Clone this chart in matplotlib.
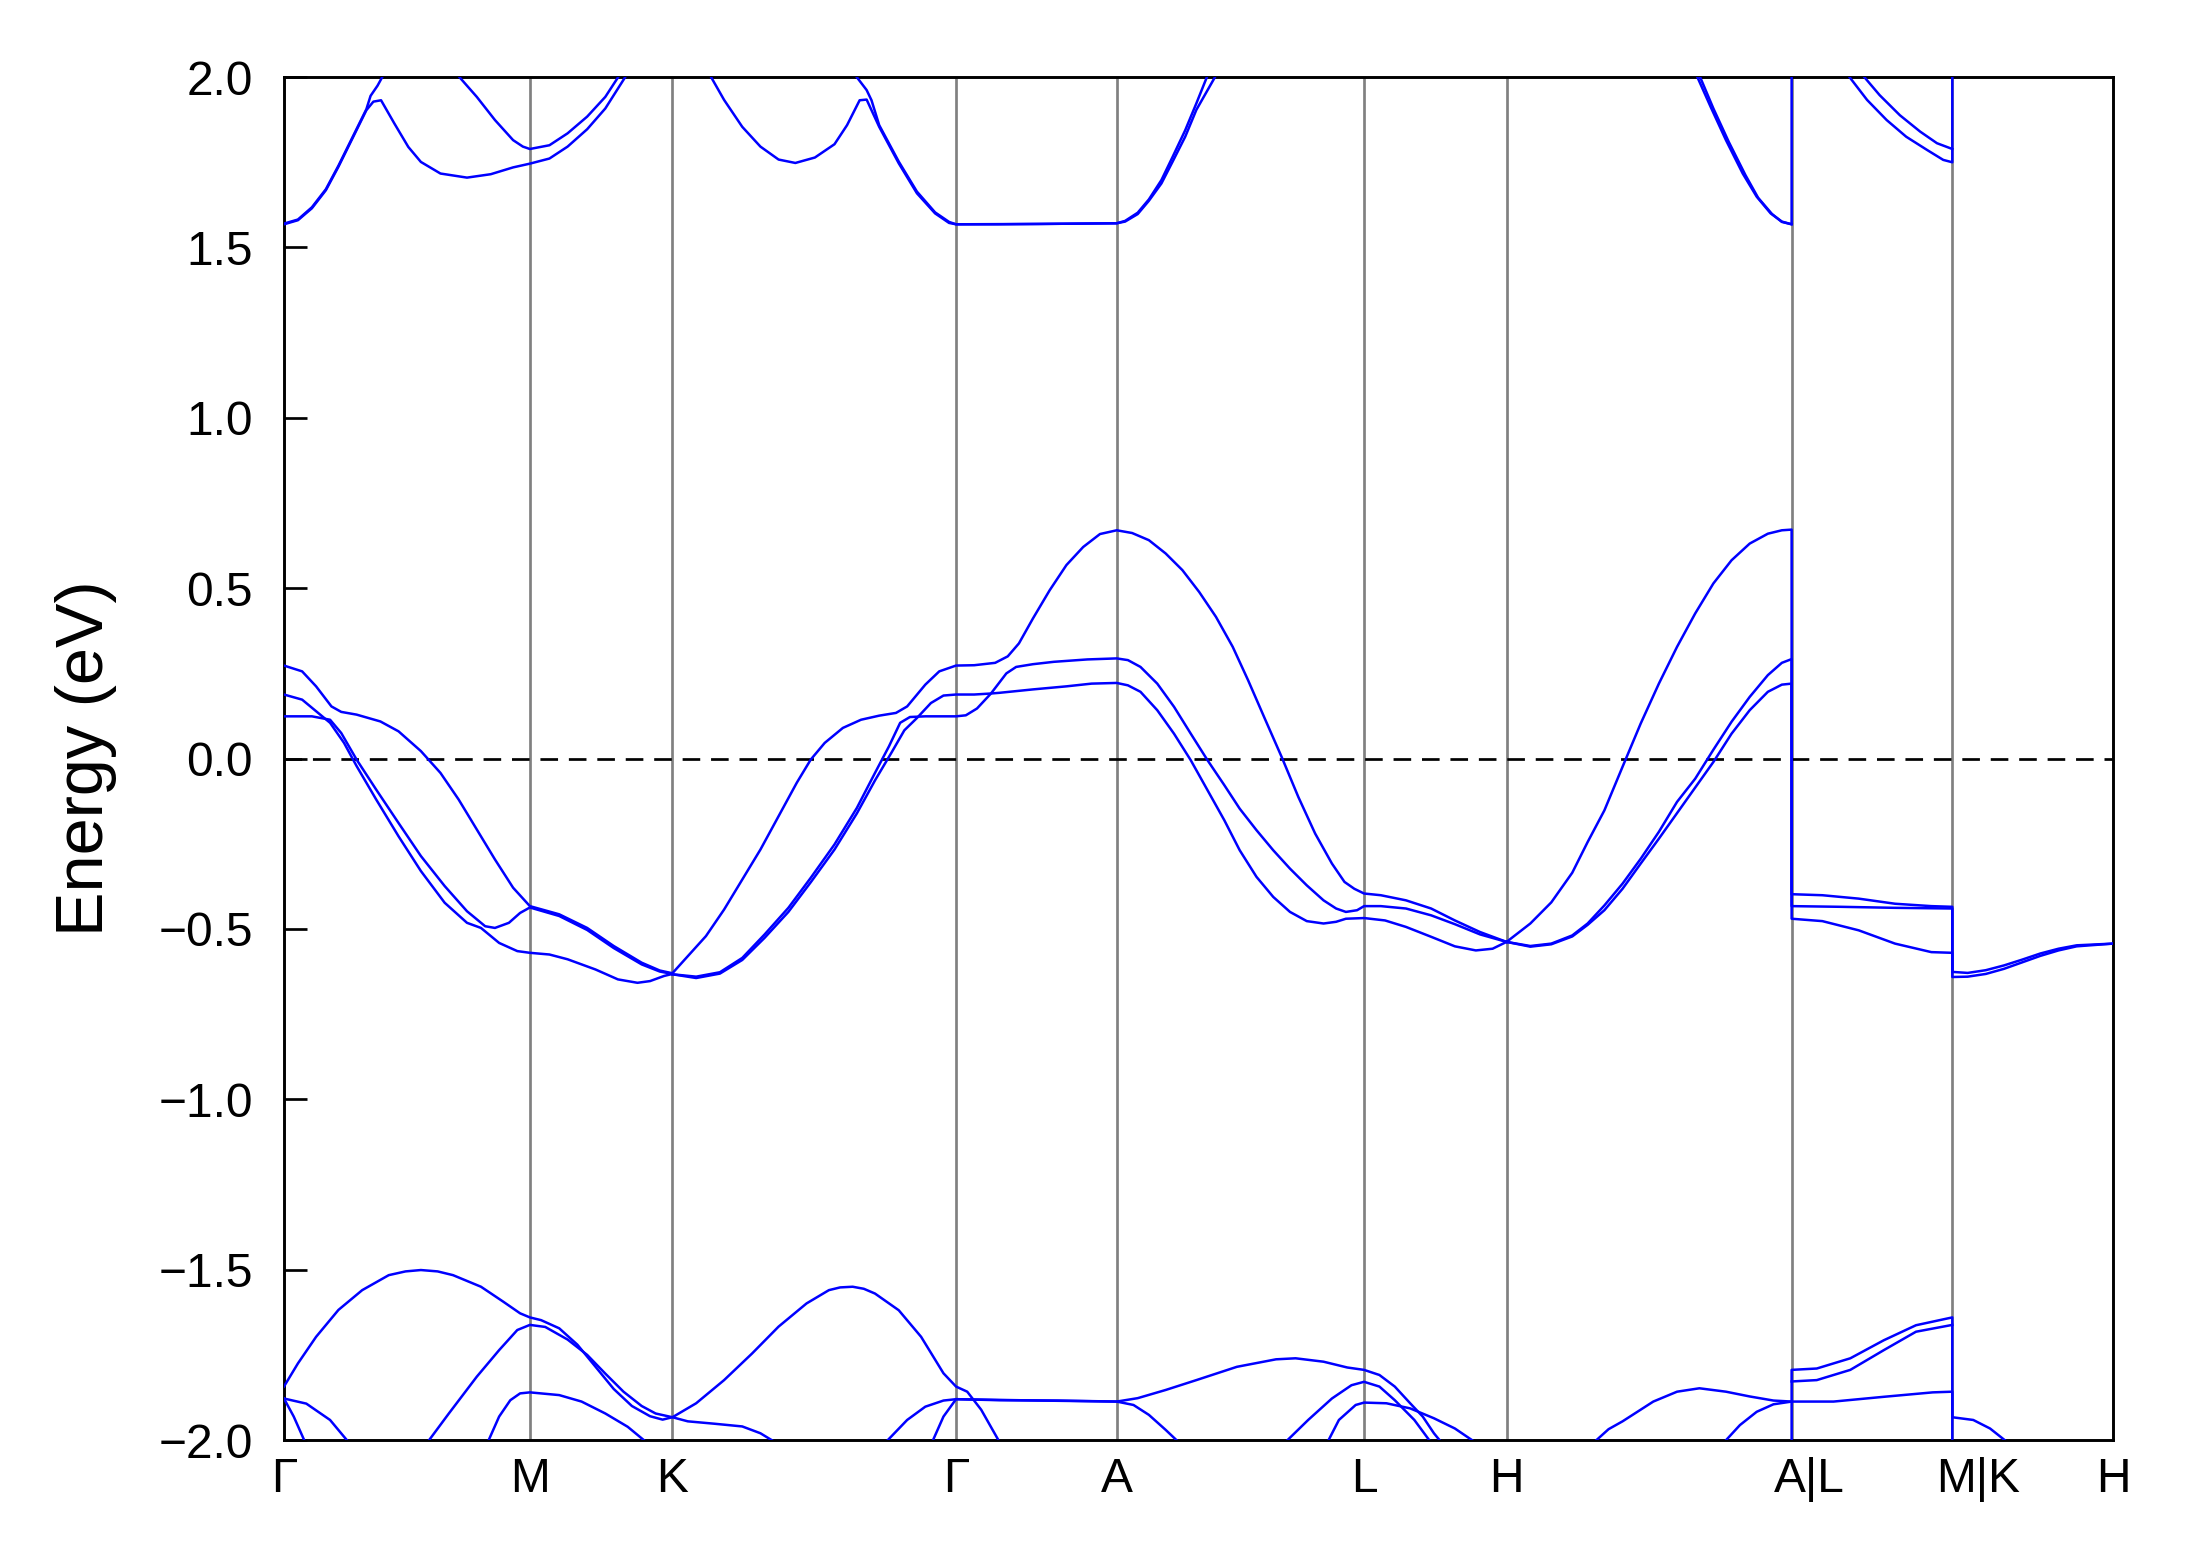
import matplotlib
matplotlib.use("Agg")
from matplotlib import pyplot as plt
from matplotlib import transforms

plt.rcParams['font.family'] = ['Liberation Sans', 'DejaVu Sans']

# high symmetry points along the path (arbitrary k units)
kpath = [0, 176, 278, 481, 596, 773, 875, 1079, 1194, 1309]
klabels = ['Γ', 'M', 'K', 'Γ', 'A', 'L', 'H', 'A|L', 'M|K', 'H']

# bands near the Fermi level, (k, E) pairs
vb1 = [(0, 0.273), (13, 0.256), (23, 0.212), (34, 0.153), (41, 0.137), (52, 0.129), (69, 0.109),
       (82, 0.080), (98, 0.022), (112, -0.042), (125, -0.120), (138, -0.208), (151, -0.296),
       (164, -0.379), (176, -0.433), (197, -0.457), (217, -0.497), (236, -0.550), (256, -0.599),
       (269, -0.622), (278, -0.630)]
vb2 = [(0, 0.188), (13, 0.173), (23, 0.139), (33, 0.105), (43, 0.046), (52, -0.022), (66, -0.120),
       (82, -0.228), (98, -0.330), (115, -0.423), (131, -0.482), (141, -0.497), (154, -0.541),
       (167, -0.565), (176, -0.570), (190, -0.575), (203, -0.589), (223, -0.619), (239, -0.648),
       (253, -0.658), (262, -0.653), (272, -0.638), (278, -0.632)]
vb3 = [(0, 0.124), (20, 0.124), (33, 0.114), (41, 0.075), (52, -0.003), (66, -0.091), (82, -0.189),
       (98, -0.286), (115, -0.374), (131, -0.448), (144, -0.492), (151, -0.497), (161, -0.482),
       (169, -0.453), (176, -0.437), (197, -0.462), (217, -0.503), (236, -0.556), (256, -0.604),
       (269, -0.625), (278, -0.632)]
vb4 = [(278, -0.630), (289, -0.580), (302, -0.521), (315, -0.443), (328, -0.355), (341, -0.267),
       (354, -0.169), (367, -0.071), (377, -0.003), (387, 0.046), (400, 0.090), (413, 0.114),
       (426, 0.126), (438, 0.134), (446, 0.153), (459, 0.217), (469, 0.256), (481, 0.273),
       (494, 0.274), (509, 0.281), (518, 0.300), (526, 0.338), (536, 0.411), (548, 0.494),
       (560, 0.568), (572, 0.621), (584, 0.659), (596, 0.670), (607, 0.662), (619, 0.641),
       (631, 0.602), (643, 0.553), (655, 0.489), (667, 0.416), (679, 0.328), (690, 0.230),
       (702, 0.117), (714, 0.005), (726, -0.113), (738, -0.220), (750, -0.308), (759, -0.362),
       (766, -0.382), (773, -0.396), (785, -0.401), (803, -0.416), (821, -0.440), (838, -0.475),
       (856, -0.509), (875, -0.538)]
vb5 = [(278, -0.633), (295, -0.640), (312, -0.627), (328, -0.585), (344, -0.516), (361, -0.438),
       (377, -0.350), (394, -0.252), (410, -0.145), (423, -0.042), (433, 0.036), (441, 0.105),
       (448, 0.122), (459, 0.124), (481, 0.124), (488, 0.127), (496, 0.147), (506, 0.191),
       (517, 0.250), (524, 0.269), (536, 0.277), (551, 0.284), (575, 0.291), (596, 0.294),
       (604, 0.289), (613, 0.269), (625, 0.220), (637, 0.152), (649, 0.073), (661, -0.005),
       (673, -0.078), (684, -0.147), (696, -0.210), (708, -0.269), (720, -0.323), (732, -0.372),
       (744, -0.416), (753, -0.440), (760, -0.450), (768, -0.445), (773, -0.433), (785, -0.433),
       (803, -0.440), (821, -0.460), (838, -0.486), (856, -0.516), (875, -0.538)]
vb6 = [(278, -0.633), (295, -0.644), (312, -0.631), (328, -0.591), (344, -0.526), (361, -0.450),
       (377, -0.363), (394, -0.267), (410, -0.161), (423, -0.064), (435, 0.019), (444, 0.083),
       (453, 0.119), (463, 0.163), (472, 0.185), (481, 0.188), (494, 0.188), (506, 0.191),
       (512, 0.193), (536, 0.203), (560, 0.212), (578, 0.220), (596, 0.222), (604, 0.215),
       (613, 0.196), (625, 0.142), (637, 0.073), (649, -0.005), (661, -0.093), (673, -0.181),
       (684, -0.269), (696, -0.347), (708, -0.406), (720, -0.450), (732, -0.477), (744, -0.484),
       (753, -0.479), (760, -0.470), (773, -0.468), (788, -0.475), (803, -0.494), (821, -0.523),
       (838, -0.551), (853, -0.563), (865, -0.558), (875, -0.538)]
vb7 = [(875, -0.538), (892, -0.484), (907, -0.422), (922, -0.335), (933, -0.245), (945, -0.152),
       (958, -0.024), (971, 0.103), (984, 0.220), (997, 0.328), (1010, 0.426), (1023, 0.514),
       (1036, 0.582), (1049, 0.631), (1062, 0.660), (1072, 0.670), (1079, 0.672), (1079, -0.398),
       (1101, -0.401), (1127, -0.411), (1153, -0.426), (1179, -0.433), (1194, -0.435),
       (1194, -0.626), (1205, -0.629), (1218, -0.621), (1231, -0.607), (1244, -0.590),
       (1257, -0.572), (1270, -0.558), (1283, -0.548), (1309, -0.543)]
vb8 = [(875, -0.538), (892, -0.550), (907, -0.543), (922, -0.519), (933, -0.484), (945, -0.431),
       (958, -0.367), (971, -0.294), (984, -0.215), (997, -0.127), (1010, -0.059), (1023, 0.026),
       (1036, 0.108), (1049, 0.181), (1062, 0.245), (1072, 0.281), (1079, 0.292), (1079, -0.433),
       (1114, -0.435), (1153, -0.438), (1194, -0.440), (1194, -0.626)]
vb9 = [(875, -0.538), (892, -0.552), (907, -0.545), (922, -0.522), (933, -0.488), (945, -0.445),
       (958, -0.382), (971, -0.308), (984, -0.235), (997, -0.160), (1010, -0.085), (1023, -0.010),
       (1036, 0.073), (1049, 0.142), (1062, 0.196), (1072, 0.217), (1079, 0.220), (1079, -0.470),
       (1101, -0.477), (1127, -0.504), (1153, -0.543), (1179, -0.568), (1194, -0.570),
       (1194, -0.641), (1205, -0.640), (1218, -0.632), (1231, -0.617), (1244, -0.598),
       (1257, -0.579), (1270, -0.563), (1283, -0.551), (1309, -0.543)]

# conduction bands
cb1 = [(0, 1.568), (10, 1.580), (20, 1.615), (30, 1.668), (39, 1.737), (49, 1.820), (59, 1.903),
       (64, 1.928), (69.5, 1.932), (79, 1.864), (89, 1.795), (98, 1.751), (112, 1.717), (131, 1.705),
       (148, 1.715), (164, 1.735), (176, 1.746), (190, 1.761), (203, 1.796), (217, 1.847),
       (230, 1.908), (245, 2.005)]
cb2 = [(0, 1.570), (10, 1.582), (20, 1.618), (30, 1.671), (39, 1.740), (49, 1.823), (59, 1.906),
       (62, 1.945), (67, 1.975), (71, 2.005)]
cb3 = [(124.5, 2.005), (138, 1.942), (151, 1.874), (164, 1.815), (171, 1.796), (176, 1.789),
       (190, 1.800), (203, 1.835), (217, 1.884), (230, 1.942), (240, 2.005)]
cb4 = [(305, 2.005), (315, 1.933), (328, 1.854), (341, 1.796), (354, 1.758), (366, 1.748),
       (380, 1.764), (394, 1.803), (403, 1.859), (412, 1.932), (417, 1.934), (426, 1.854),
       (440, 1.747), (453, 1.659), (466, 1.600), (476, 1.572), (481, 1.568), (511, 1.568),
       (596, 1.571), (602, 1.578), (611, 1.602), (619, 1.641), (628, 1.698), (636, 1.766),
       (645, 1.844), (653, 1.923), (661, 2.005)]
cb5 = [(409, 2.005), (417, 1.962), (420.5, 1.932), (426, 1.859), (440, 1.752), (453, 1.664),
       (466, 1.603), (476, 1.575), (481, 1.568), (540, 1.569), (596, 1.571), (602, 1.576),
       (611, 1.598), (619, 1.637), (628, 1.688), (636, 1.752), (645, 1.825), (653, 1.904),
       (667, 2.005)]
cb6 = [(1011, 2.005), (1021, 1.913), (1032, 1.815), (1044, 1.717), (1054, 1.649), (1064, 1.600),
       (1072, 1.576), (1079, 1.568), (1079, 2.05)]
cb7 = [(1013, 2.005), (1023, 1.908), (1034, 1.810), (1046, 1.712), (1055, 1.646), (1065, 1.598),
       (1072, 1.575), (1079, 1.568)]
cb8 = [(1119.5, 2.005), (1133, 1.933), (1147, 1.874), (1161, 1.825), (1176, 1.786),
       (1187.5, 1.757), (1194, 1.750), (1194, 2.05)]
cb9 = [(1130, 2.005), (1142, 1.947), (1156.5, 1.888), (1171, 1.840), (1183, 1.806), (1194, 1.789)]

# deeper bands around -2 eV
db1 = [(0, -1.843), (10, -1.775), (23, -1.697), (39, -1.618), (56, -1.560), (75, -1.516),
       (87, -1.505), (98, -1.501), (110, -1.505), (121, -1.516), (141, -1.550), (157, -1.594),
       (169, -1.628), (176, -1.640),
       (184, -1.648), (197, -1.672), (210, -1.720), (223, -1.785), (236, -1.850), (249, -1.900),
       (262, -1.930), (271, -1.940), (278, -1.933), (295, -1.892), (315, -1.824), (335, -1.746),
       (354, -1.667), (374, -1.599), (390, -1.560), (398, -1.552), (407, -1.550), (415, -1.556),
       (423, -1.570), (440, -1.619),
       (456, -1.697), (472, -1.804), (481, -1.843), (489, -1.858), (499, -1.911), (512, -2.005)]
db2 = [(103, -2.005), (118, -1.922), (138, -1.814), (154, -1.736), (167, -1.677), (176, -1.662),
       (187, -1.668), (203, -1.705), (217, -1.750), (230, -1.805), (243, -1.858), (256, -1.900),
       (266, -1.922), (278, -1.933), (289, -1.945), (308, -1.952), (328, -1.960), (341, -1.980),
       (351, -2.005)]
db3 = [(0, -1.878), (16, -1.893), (33, -1.941), (46, -2.005)]
db4 = [(0, -1.878), (7, -1.931), (15, -2.005)]
db5 = [(146, -2.005), (154, -1.931), (162, -1.883), (169, -1.863), (176, -1.860), (197, -1.868),
       (213, -1.887), (230, -1.922), (246, -1.961), (259, -2.005)]
db6 = [(431, -2.005), (446, -1.941), (459, -1.902), (472, -1.884), (481, -1.880), (512, -1.883),
       (554, -1.884), (596, -1.887), (611, -1.877), (631, -1.853), (653, -1.824), (682, -1.785),
       (710, -1.763), (724, -1.760), (744, -1.770), (761, -1.787), (773, -1.794), (784, -1.809),
       (795, -1.843), (806, -1.892), (815, -1.931), (823, -1.980), (828, -2.005)]
db7 = [(464, -2.005), (472, -1.931), (481, -1.880), (540, -1.884), (596, -1.887), (608, -1.897),
       (619, -1.926), (631, -1.970), (640, -2.005)]
db8 = [(717, -2.005), (733, -1.941), (750, -1.878), (764, -1.839), (773, -1.829), (784, -1.843),
       (795, -1.883), (809, -1.941), (820.5, -2.005)]
db9 = [(747, -2.005), (755, -1.941), (767, -1.897), (773, -1.890), (789, -1.892), (806, -1.907),
       (823, -1.936), (838, -1.966), (852, -2.005)]
db10 = [(938, -2.005), (948, -1.968), (958, -1.945), (980, -1.887), (997, -1.858), (1013, -1.848),
        (1032, -1.858), (1049, -1.872), (1066, -1.884), (1079, -1.887), (1109, -1.887),
        (1145, -1.873), (1180, -1.860), (1194, -1.858), (1194, -1.933), (1209, -1.941),
        (1221, -1.966), (1233, -2.005)]
db11 = [(1031, -2.005), (1042, -1.956), (1054, -1.917), (1066, -1.895), (1079, -1.887)]
db12 = [(1079, -2.05), (1079, -1.794), (1097, -1.790), (1121, -1.760), (1145, -1.707),
        (1168, -1.663), (1194, -1.640), (1194, -2.05)]
db13 = [(1079, -1.828), (1097, -1.824), (1121, -1.794), (1145, -1.736), (1168, -1.682),
        (1194, -1.662)]

bands = [vb1, vb2, vb3, vb4, vb5, vb6, vb7, vb8, vb9,
         cb1, cb2, cb3, cb4, cb5, cb6, cb7, cb8, cb9,
         db1, db2, db3, db4, db5, db6, db7, db8, db9, db10, db11, db12, db13]

fig = plt.figure(figsize=(2191 / 300, 1567 / 300), dpi=300)
ax = fig.add_axes([0.1296, 0.0810, 0.8348, 0.8698])

for b in bands:
    k, e = zip(*b)
    ax.plot(k, e, color='blue', lw=0.6, zorder=3)

# vertical lines at the high symmetry points
for k in kpath[1:-1]:
    ax.axvline(k, color='gray', lw=0.65, zorder=1)
ax.axhline(0, color='black', lw=0.65, ls=(0, (6.5, 4)), zorder=2)

ax.set_xlim(kpath[0], kpath[-1])
ax.set_ylim(-2, 2)
ax.set_xticks(kpath)
ax.set_xticklabels(klabels)
ax.set_yticks([-2.0, -1.5, -1.0, -0.5, 0.0, 0.5, 1.0, 1.5, 2.0])
ax.tick_params(axis='y', direction='in', length=5.5, width=0.65, pad=7.5, labelsize=11.5)
ax.tick_params(axis='x', length=0, pad=4, labelsize=11.5)
for s in ax.spines.values():
    s.set_linewidth(0.7)
ax.set_ylabel('Energy (eV)', fontsize=16, labelpad=10)

# the joined labels sit a little right of their lines in the original
shifts = {'A|L': 4.3, 'M|K': 6.2}
for lab in ax.get_xticklabels():
    dx = shifts.get(lab.get_text(), 0)
    if dx:
        lab.set_transform(lab.get_transform() + transforms.ScaledTranslation(dx / 72, 0, fig.dpi_scale_trans))

fig.savefig('out.png', dpi=300)
